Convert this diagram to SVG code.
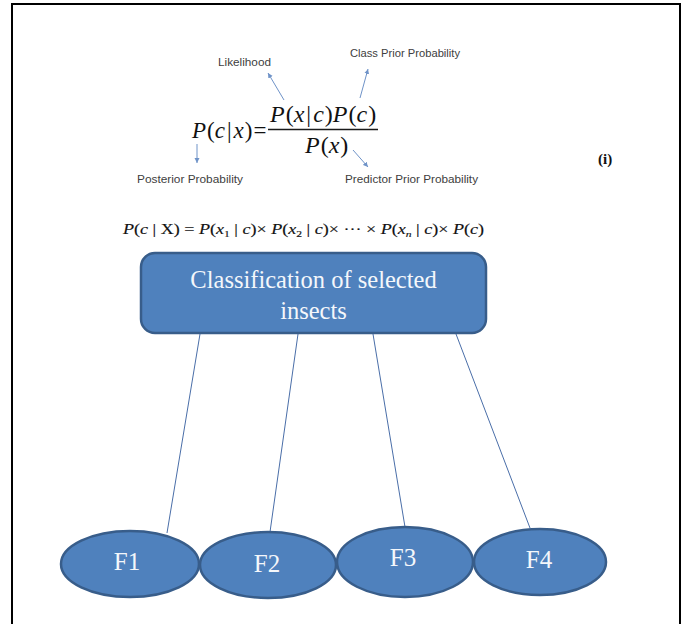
<svg xmlns="http://www.w3.org/2000/svg" width="685" height="624" viewBox="0 0 685 624">
  <defs>
    <style>
      .node { fill: #4f81bd; stroke: #385d8a; stroke-width: 2.5; }
      .ntext { font-family: "Liberation Serif", "Times New Roman", serif; fill: #f4f7fb; text-anchor: middle; }
      .conn { stroke: #4a6ea8; stroke-width: 1; fill: none; }
      .ann { stroke: #6f93c8; stroke-width: 1; fill: none; marker-end: url(#ah); }
      .lbl { font-family: "Liberation Sans", Arial, sans-serif; font-size: 11px; fill: #404040; }
      .math { font-family: "Liberation Serif", "Times New Roman", serif; fill: #111111; }
      .it { font-style: italic; }
    </style>
    <marker id="ah" markerWidth="6" markerHeight="6" refX="5" refY="3" orient="auto" markerUnits="userSpaceOnUse">
      <path d="M0,0.5 L5,3 L0,5.5 Z" fill="#6f93c8"/>
    </marker>
  </defs>

  <rect x="12" y="4" width="668" height="630" fill="#ffffff" stroke="#000000" stroke-width="2"/>

  <g id="formula">
    <text class="math" x="192" y="138" font-size="23"><tspan class="it">P</tspan><tspan dx="1">(</tspan><tspan class="it">c</tspan><tspan dx="2">|</tspan><tspan class="it" dx="2">x</tspan><tspan dx="1">)</tspan><tspan dx="1">=</tspan></text>
    <text class="math" x="270" y="122" font-size="24"><tspan class="it">P</tspan><tspan dx="1">(</tspan><tspan class="it">x</tspan><tspan dx="2">|</tspan><tspan class="it" dx="2">c</tspan><tspan dx="1">)</tspan><tspan class="it">P</tspan><tspan dx="1">(</tspan><tspan class="it">c</tspan><tspan dx="1">)</tspan></text>
    <line x1="268" y1="129.5" x2="378" y2="129.5" stroke="#1a1a1a" stroke-width="1.3"/>
    <text class="math" x="305" y="153" font-size="24"><tspan class="it">P</tspan><tspan dx="1">(</tspan><tspan class="it">x</tspan><tspan dx="1">)</tspan></text>
  </g>

  <g id="labels">
    <text class="lbl" x="218" y="66" textLength="53" lengthAdjust="spacingAndGlyphs">Likelihood</text>
    <text class="lbl" x="350" y="57" textLength="110" lengthAdjust="spacingAndGlyphs">Class Prior Probability</text>
    <text class="lbl" x="137" y="183" textLength="106" lengthAdjust="spacingAndGlyphs">Posterior Probability</text>
    <text class="lbl" x="345" y="183" textLength="133" lengthAdjust="spacingAndGlyphs">Predictor Prior Probability</text>
    <text x="598" y="164" font-family="'Liberation Serif', serif" font-weight="bold" font-size="15" fill="#111">(i)</text>
  </g>

  <g id="annotations">
    <line class="ann" x1="284" y1="100" x2="268" y2="73"/>
    <line class="ann" x1="360" y1="98" x2="368" y2="69"/>
    <line class="ann" x1="197" y1="144" x2="197" y2="163"/>
    <line class="ann" x1="353" y1="150" x2="368" y2="167"/>
  </g>

  <g id="formula2">
    <text class="math" x="123" y="234" font-size="14" textLength="361" lengthAdjust="spacingAndGlyphs" stroke="#111" stroke-width="0.15"><tspan class="it">P</tspan>(<tspan class="it">c</tspan> | X) = <tspan class="it">P</tspan>(<tspan class="it">x</tspan><tspan font-size="9" dy="3">1</tspan><tspan dy="-3"> | </tspan><tspan class="it">c</tspan>)× <tspan class="it">P</tspan>(<tspan class="it">x</tspan><tspan font-size="9" dy="3">2</tspan><tspan dy="-3"> | </tspan><tspan class="it">c</tspan>)× ··· × <tspan class="it">P</tspan>(<tspan class="it">x</tspan><tspan font-size="9" dy="3" class="it">n</tspan><tspan dy="-3"> | </tspan><tspan class="it">c</tspan>)× <tspan class="it">P</tspan>(<tspan class="it">c</tspan>)</text>
  </g>

  <g id="connectors">
    <line class="conn" x1="200" y1="334" x2="167" y2="533"/>
    <line class="conn" x1="298" y1="334" x2="270" y2="532"/>
    <line class="conn" x1="373" y1="334" x2="405" y2="527"/>
    <line class="conn" x1="456" y1="334" x2="530" y2="528"/>
  </g>

  <g id="classification">
    <rect class="node" x="141" y="253" width="345" height="80" rx="14" ry="14"/>
    <text class="ntext" x="313.5" y="288" font-size="24.5">Classification of selected</text>
    <text class="ntext" x="313.5" y="319" font-size="24.5">insects</text>
  </g>

  <g id="F1">
    <ellipse class="node" cx="130" cy="564" rx="69" ry="33"/>
    <text class="ntext" x="127" y="570" font-size="25">F1</text>
  </g>
  <g id="F2">
    <ellipse class="node" cx="268" cy="565" rx="68" ry="33"/>
    <text class="ntext" x="267" y="572" font-size="25">F2</text>
  </g>
  <g id="F3">
    <ellipse class="node" cx="405" cy="562" rx="68" ry="35"/>
    <text class="ntext" x="403" y="566" font-size="25">F3</text>
  </g>
  <g id="F4">
    <ellipse class="node" cx="540" cy="562" rx="66" ry="33"/>
    <text class="ntext" x="539" y="568" font-size="25">F4</text>
  </g>
</svg>
